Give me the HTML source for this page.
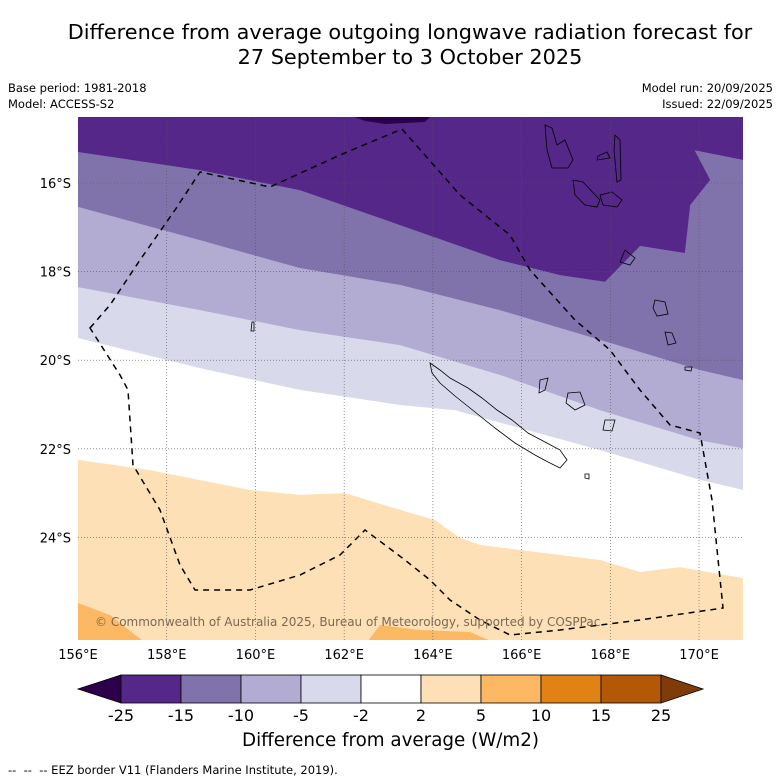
<!DOCTYPE html>
<html><head><meta charset="utf-8"><style>
body{margin:0;background:#fff;font-family:"DejaVu Sans","Liberation Sans",sans-serif;}
#wrap{position:relative;width:781px;height:781px;overflow:hidden;}
.t{position:absolute;white-space:nowrap;color:#000;}
svg text{font-family:"DejaVu Sans","Liberation Sans",sans-serif;}
</style></head><body>
<div id="wrap">
<div class="t" style="left:0;width:820px;text-align:center;top:20px;font-size:20.8px;line-height:25px;">Difference from average outgoing longwave radiation forecast for<br>27 September to 3 October 2025</div>
<div class="t" style="left:8px;top:80px;font-size:11.5px;line-height:16px;">Base period: 1981-2018<br>Model: ACCESS-S2</div>
<div class="t" style="right:8px;top:80px;font-size:11.5px;line-height:16px;text-align:right;">Model run: 20/09/2025<br>Issued: 22/09/2025</div>
<svg id="map" width="781" height="781" style="position:absolute;left:0;top:0"></svg>
<div class="t" style="left:0;width:781px;text-align:center;top:730px;font-size:18.3px;">Difference from average (W/m2)</div>
<div class="t" style="left:8px;top:763px;font-size:11.5px;">-- &nbsp;-- &nbsp;-- EEZ border V11 (Flanders Marine Institute, 2019).</div>
</div>
<script>
const lonTicks=[156,158,160,162,164,166,168,170];
const latTicks=[16,18,20,22,24];
const cbLevels=[-25,-15,-10,-5,-2,2,5,10,15,25];
const cbColors=["#2d004b","#542788","#8073ac","#b2abd2","#d8daeb","#ffffff","#fee0b6","#fdb863","#e08214","#b35806","#7f3b08"];
// contour boundaries [lon offset from 156, lat S]
const b1=[[0,15.30],[2.75,15.71],[5.0,16.16],[7.26,16.95],[9.51,17.74],[10.87,18.08],[11.88,18.23],[12.67,17.42],[13.68,17.58],[13.8,16.5],[14.25,15.93],[13.9,15.26],[15,15.48]];
const b2=[[0,16.54],[2.75,17.29],[5.0,17.92],[7.26,18.30],[9.51,18.87],[11.77,19.54],[14.02,20.22],[15,20.45]];
const b3=[[0,18.35],[2.75,18.87],[5.0,19.32],[7.26,19.66],[9.51,20.33],[11.77,21.13],[14.02,21.81],[15,21.99]];
const b4=[[0,19.50],[2.75,20.18],[5.0,20.67],[7.26,21.01],[8.5,21.13],[11.77,22.03],[14.02,22.70],[15,22.93]];
const b5=[[0,22.25],[1.62,22.48],[3.88,22.93],[5.0,23.04],[6.02,23.00],[7.26,23.38],[8.05,23.61],[8.61,24.01],[9.06,24.17],[11.77,24.51],[12.67,24.78],[13.57,24.67],[15,24.92]];
const X0=78,X1=743,Y0=117,Y1=640,PX=44.36,PY=44.3;
const lx=l=>X0+(l-156)*PX, ly=l=>183+(l-16)*PY;
const ox=o=>X0+o*PX;
const svg=document.getElementById('map');const NS="http://www.w3.org/2000/svg";
function mk(t,a,p){const e=document.createElementNS(NS,t);for(const k in a)e.setAttribute(k,a[k]);(p||svg).appendChild(e);return e;}
const defs=mk('clipPath',{id:'clip'});mk('rect',{x:X0,y:Y0,width:X1-X0,height:Y1-Y0},defs);
const g=mk('g',{'clip-path':'url(#clip)'});

function band(b,col,name){let d=`M${X0-5},${Y1+5} L${X0-5},${ly(b[0][1])} `+b.map(p=>`L${ox(p[0])},${ly(p[1])}`).join(' ')+` L${X1+5},${ly(b[b.length-1][1])} L${X1+5},${Y1+5}Z`;
 const e=mk('path',{d:d,fill:col},g);}
mk('rect',{x:X0,y:Y0,width:X1-X0,height:Y1-Y0,fill:cbColors[1]},g);
band(b1,cbColors[2],'band-minus15');band(b2,cbColors[3],'band-minus10');band(b3,cbColors[4],'band-minus5');band(b4,cbColors[5],'band-neutral');band(b5,cbColors[6],'band-plus2');
let e=mk('path',{d:`M${X0},603 L110,615 L148,645 L${X0},645Z`,fill:cbColors[7]},g);
e=mk('path',{d:`M365,645 L380,625 L420,630 L470,632 L500,645Z`,fill:cbColors[7]},g);
e=mk('path',{d:`M355,117 L430,117 L425,122 L385,124 L365,121Z`,fill:cbColors[0]},g);
// islands
const isl=["M430,363 L440,370 L450,378 L468,388 L482,398 L497,410 L512,420 L528,433 L545,442 L560,450 L567,460 L560,468 L548,462 L535,455 L515,443 L495,428 L475,412 L455,396 L440,383 L432,373 Z",
"M545,125 L552,128 L557,145 L565,140 L573,160 L568,168 L552,168 L547,150Z","M615,135 L620,140 L621,180 L617,182 L614,150Z",
"M573,180 L583,182 L600,200 L597,207 L585,205 L575,195Z","M600,195 L612,192 L622,200 L617,207 L603,205Z","M625,250 L635,258 L630,265 L620,262Z",
"M655,300 L665,302 L668,314 L657,316 L653,308Z","M665,332 L672,333 L676,343 L668,345Z","M568,393 L580,392 L585,405 L575,410 L566,403Z",
"M605,420 L615,420 L612,431 L603,430Z","M540,380 L548,378 L545,390 L539,393Z","M598,156 L607,152 L610,158 L597,160Z","M685,367 L692,367 L691,371 L685,370Z","M585,474 L589,474 L589,479 L585,478Z","M252,322 L254,322 L254,331 L251,331Z"];
isl.forEach((d,i)=>{const p=mk('path',{d:d,fill:'none',stroke:'#000','stroke-width':0.8},g);});
// grid
lonTicks.slice(1).forEach(l=>{const q=mk('line',{x1:lx(l),x2:lx(l),y1:Y0,y2:Y1,stroke:'#555','stroke-width':0.6,'stroke-dasharray':'1,2'},g);});
latTicks.forEach(l=>{const q=mk('line',{x1:X0,x2:X1,y1:ly(l),y2:ly(l),stroke:'#555','stroke-width':0.6,'stroke-dasharray':'1,2'},g);});
// EEZ
const eez="M90,328 L110,305 L140,260 L175,210 L200,172 L270,187 L340,155 L402,129 L460,195 L510,235 L530,270 L575,320 L610,350 L640,390 L670,425 L700,433 L712,500 L723,608 L640,620 L560,630 L510,635 L480,620 L450,600 L430,580 L405,560 L365,530 L340,555 L300,575 L250,590 L195,590 L180,565 L160,510 L133,465 L128,390 L120,375 Z";
e=mk('path',{d:eez,fill:'none',stroke:'#000','stroke-width':1.5,'stroke-dasharray':'6,5'},g);
e=mk('text',{x:95,y:626,'font-size':12,fill:'#7a6a55'},g);e.textContent='© Commonwealth of Australia 2025, Bureau of Meteorology, supported by COSPPac';
lonTicks.forEach(l=>{const t=mk('text',{x:lx(l),y:659,'font-size':13,'text-anchor':'middle'});t.textContent=l+'°E';});
latTicks.forEach(l=>{const t=mk('text',{x:71,y:ly(l)+5,'font-size':13,'text-anchor':'end'});t.textContent=l+'°S';});
// colorbar
const cy0=675,cy1=703,cL=121,cW=60;
const cbx=i=>cL+i*cW;
e=mk('path',{d:`M${cbx(0)},${cy0} L78,689 L${cbx(0)},${cy1}Z`,fill:cbColors[0],stroke:'#000','stroke-width':0.8});
for(let i=0;i<cbLevels.length-1;i++){const r=mk('rect',{x:cbx(i),y:cy0,width:cW,height:cy1-cy0,fill:cbColors[i+1],stroke:'#000','stroke-width':0.8});}
const n=cbLevels.length-1;
e=mk('path',{d:`M${cbx(n)},${cy0} L703,689 L${cbx(n)},${cy1}Z`,fill:cbColors[10],stroke:'#000','stroke-width':0.8});
cbLevels.forEach((v,i)=>{const t=mk('text',{x:cbx(i),y:721,'font-size':16,'text-anchor':'middle'});t.textContent=v;});
</script>
</body></html>
